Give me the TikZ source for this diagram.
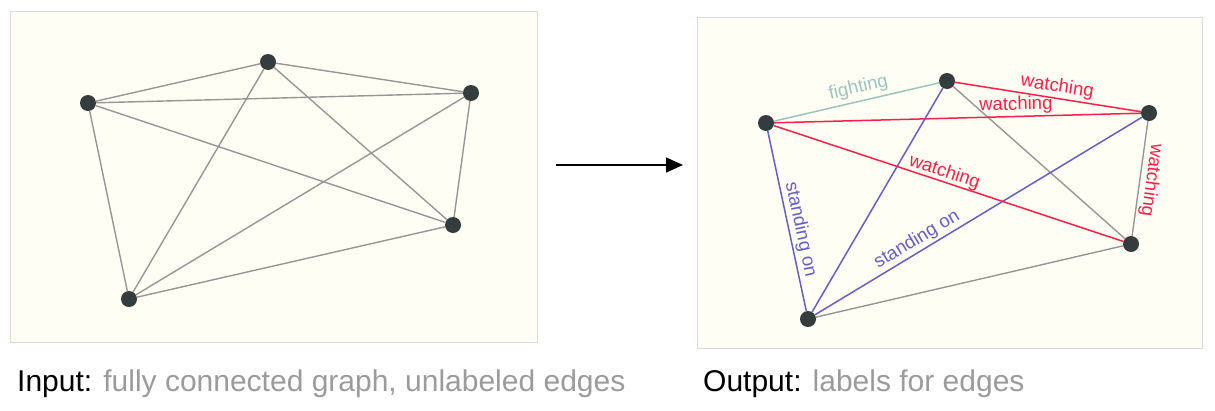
\documentclass[tikz,border=0pt]{standalone}
\usepackage{fontspec}
\setmainfont{Liberation Sans}
\usetikzlibrary{arrows.meta, positioning}
\definecolor{panelbg}{RGB}{255,254,245}
\definecolor{panelrim}{RGB}{218,218,218}
\definecolor{vtxgray}{RGB}{52,60,62}
\definecolor{edgegray}{RGB}{150,150,150}
\definecolor{watchred}{RGB}{255,30,70}
\definecolor{standblue}{RGB}{100,94,200}
\definecolor{fightteal}{RGB}{155,196,188}
\definecolor{capgray}{RGB}{155,155,155}
\tikzset{%
	vtx/.style={circle, fill=vtxgray, minimum size=16pt, inner sep=0pt},
	panel/.style={draw=panelrim, fill=panelbg, line width=1pt},
	connector/.style={draw=edgegray, line width=1.4pt},
	watch/.style={draw=watchred, line width=1.5pt},
	stand/.style={draw=standblue, line width=1.5pt},
	fight/.style={draw=fightteal, line width=1.5pt},
	lbl/.style={font=\fontsize{18.6}{20}\selectfont, sloped, inner sep=2pt},
	caption/.style={font=\fontsize{30}{36}\selectfont, anchor=base west, inner sep=0pt}
}

\begin{document}
\begin{tikzpicture}[x=1pt, y=-1pt]
	\useasboundingbox (0,0) rectangle (1215,410);
	\draw[panel] (10,11) rectangle (537,342);
	\draw[panel] (697,17) rectangle (1202,348);

	% input graph
	\node[vtx] (a1) at (88,103) {};
	\node[vtx] (b1) at (268,62) {};
	\node[vtx] (c1) at (471,93) {};
	\node[vtx] (d1) at (453,225) {};
	\node[vtx] (e1) at (129,299) {};
	\foreach \u/\v in {a1/b1, a1/c1, a1/d1, a1/e1, b1/c1, b1/d1, b1/e1, c1/d1, c1/e1, d1/e1}
		\draw[connector] (\u) -- (\v);

	% arrow
	\coordinate (arrs) at (556,165);
	\coordinate (arre) at (683,165);
	\draw[line width=1.5pt, -{Triangle[length=17pt, width=15pt]}] (arrs) -- (arre);

	% output graph
	\node[vtx] (a2) at (766,123) {};
	\node[vtx] (b2) at (947,81) {};
	\node[vtx] (c2) at (1149,113) {};
	\node[vtx] (d2) at (1131,244) {};
	\node[vtx] (e2) at (808,319) {};

	\draw[connector] (b2) -- (d2);
	\draw[connector] (d2) -- (e2);
	\draw[connector] (c2) -- node[lbl, allow upside down, above, text=watchred]{watching} (d2);
	\draw[fight] (a2) -- node[lbl, pos=0.53, above, inner sep=4pt, text=fightteal]{fighting} (b2);
	\draw[watch] (b2) -- node[lbl, pos=0.54, above, text=watchred]{watching} (c2);
	\draw[watch] (a2) -- node[lbl, pos=0.66, above, text=watchred]{watching} (c2);
	\draw[stand] (b2) -- (e2);
	\draw[stand] (e2) -- node[lbl, pos=0.33, above, text=standblue]{standing on} (c2);
	\draw[watch] (a2) -- node[lbl, pos=0.48, above, inner sep=0pt, text=watchred]{watching} (d2);
	\draw[stand] (a2) -- node[lbl, pos=0.56, allow upside down, above, text=standblue]{standing on} (e2);

	% captions
	\node[caption] (incap) at (17,391) {Input: \textcolor{capgray}{fully connected graph, unlabeled edges}};
	\node[caption] (outcap) at (703,391) {Output: \textcolor{capgray}{labels for edges}};
\end{tikzpicture}
\end{document}
